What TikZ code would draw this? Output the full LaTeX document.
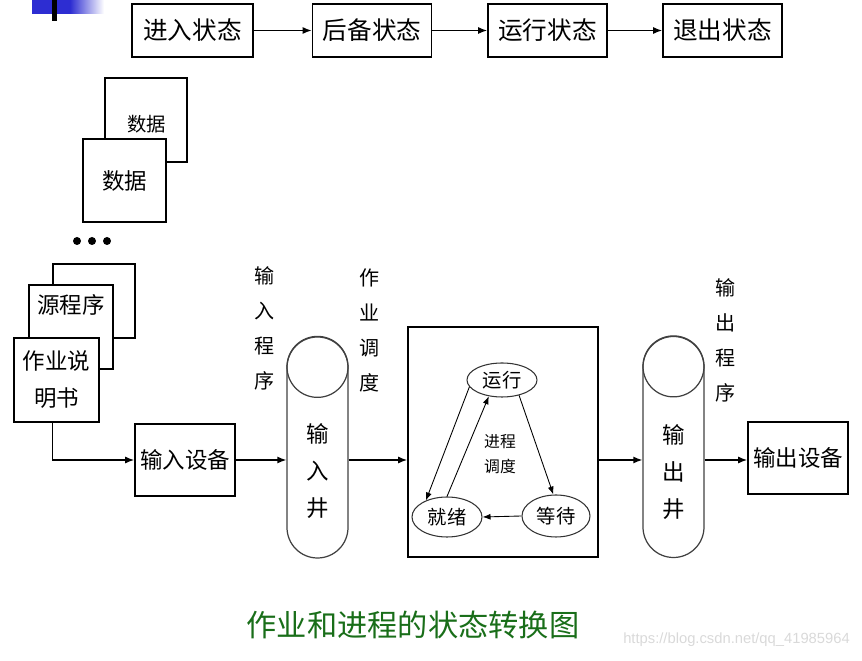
\documentclass[tikz,border=0pt]{standalone}
\usepackage{fontspec}
\setmainfont{Noto Sans CJK SC}
\newfontfamily\urlfont{Liberation Sans}
\usetikzlibrary{shapes.geometric,calc,arrows.meta}
\definecolor{titlegreen}{RGB}{25,110,25}
\definecolor{barblue}{RGB}{45,45,210}
\tikzset{
  stbox/.style={draw,line width=0.9pt,minimum width=23.8mm,minimum height=10.6mm,inner sep=0pt,font=\fontsize{14}{16}\selectfont},
  paper/.style={draw,fill=white,line width=0.9pt,inner sep=0pt,align=center,font=\fontsize{12.8}{21}\selectfont},
  device/.style={draw,line width=0.9pt,minimum width=20mm,minimum height=14.3mm,inner sep=0pt,font=\fontsize{12.8}{15}\selectfont},
  well/.style={draw=black!75,line width=0.7pt,rounded corners=6.1mm,minimum width=12.2mm,minimum height=44.2mm,inner sep=0pt},
  welltext/.style={align=center,font=\fontsize{12.8}{21}\selectfont},
  vlabel/.style={align=center,font=\fontsize{11.4}{19.9}\selectfont},
  pstate/.style={ellipse,draw=black!80,line width=0.6pt,minimum width=14mm,minimum height=7.6mm,inner sep=0pt,font=\fontsize{11}{13}\selectfont},
  flow/.style={-{Latex[length=1.8mm,width=1.4mm]},line width=0.8pt},
  pflow/.style={-{Latex[length=1.6mm,width=1.2mm]},line width=0.5pt}
}
\begin{document}
\begin{tikzpicture}[x=0.2mm,y=-0.2mm]
        \useasboundingbox (0,0) rectangle (862,661);
        % corner mark
        \fill[barblue] (32,0) rectangle (70,14);
        \shade[left color=barblue,right color=white] (70,0) rectangle (104,14);
        \fill (52,0) rectangle (57,21);
        % job states
        \node[stbox,minimum width=24.2mm] (jenter) at (192.5,30.5) {进入状态};
        \node[stbox] (jbackup) at (372,30.5) {后备状态};
        \node[stbox] (jrun) at (547.5,30.5) {运行状态};
        \node[stbox] (jexit) at (722.5,30.5) {退出状态};
        \draw[flow] (jenter)--(jbackup);
        \draw[flow] (jbackup)--(jrun);
        \draw[flow] (jrun)--(jexit);
        % cards
        \node[paper,minimum width=16.4mm,minimum height=16.8mm] (data2) at (146,120) {};
        \node[font=\fontsize{11}{13}\selectfont] (data2text) at (147,124) {数据};
        \node[paper,minimum width=16.6mm,minimum height=16.6mm] (data1) at (124.5,180.5) {数据};
        \foreach \dx in {77,92,107}
            \fill (\dx,241) circle[radius=0.8mm];
        \node[paper,minimum width=16.4mm,minimum height=14.8mm] (src3) at (94,301) {};
        \node[paper,minimum width=16.8mm,minimum height=16.8mm] (src2) at (71,327) {};
        \node[font=\fontsize{12.8}{15}\selectfont] (srctext) at (71,305) {源程序};
        \node[paper,minimum width=17mm,minimum height=16.8mm] (spec) at (56.5,380) {作业说\\明书};
        % devices and wells
        \node[device] (indev) at (185,460) {输入设备};
        \node[well] (inwell) at (317.5,447.5) {};
        \draw[draw=black!75,line width=0.7pt] ([yshift=-6.1mm]inwell.north) circle[radius=6.1mm];
        \node[welltext] (inwelltext) at (318,471) {输\\入\\井};
        \node[draw,line width=0.9pt,minimum width=38mm,minimum height=46mm] (proc) at (503,442) {};
        \node[well] (outwell) at (673.5,447) {};
        \draw[draw=black!75,line width=0.7pt] ([yshift=-6.1mm]outwell.north) circle[radius=6.1mm];
        \node[welltext] (outwelltext) at (674,472) {输\\出\\井};
        \node[device] (outdev) at (798,458) {输出设备};
        \node[vlabel] (inprog) at (265,328) {输\\入\\程\\序};
        \node[vlabel] (jobsched) at (370,330) {作\\业\\调\\度};
        \node[vlabel] (outprog) at (726,340) {输\\出\\程\\序};
        \draw[flow] ([xshift=-0.8mm]spec.south) |- (indev.west);
        \draw[flow] (indev.east)--(indev.east -| inwell.west);
        \draw[flow] (inwell.east |- indev.east)--(indev.east -| proc.west);
        \draw[flow] (proc.east |- indev.east)--(indev.east -| outwell.west);
        \draw[flow] (outwell.east |- indev.east)--(indev.east -| outdev.west);
        % process states
        \node[pstate,minimum height=6.8mm] (prun) at (502,380) {运行};
        \node[pstate,minimum height=8mm] (pready) at (447,517) {就绪};
        \node[pstate,minimum width=13.6mm,minimum height=8.4mm] (pwait) at (556,516) {等待};
        \node[align=center,font=\fontsize{9}{14.2}\selectfont] (psched) at (500,454) {进程\\调度};
        \draw[pflow] (prun.192)--(pready.142);
        \draw[pflow] (pready.90)--(prun.231);
        \draw[pflow] (prun.318)--(pwait.97);
        \draw[pflow] (pwait.west)--(pready.east);
        % caption
        \node[font=\fontsize{17.2}{19}\selectfont,text=titlegreen] (title) at (413,625) {作业和进程的状态转换图};
        \node[anchor=east,font=\urlfont\fontsize{8.4}{10}\selectfont,text=black!15] (mark) at (856,640) {https://blog.csdn.net/qq\_41985964};
\end{tikzpicture}
\end{document}
